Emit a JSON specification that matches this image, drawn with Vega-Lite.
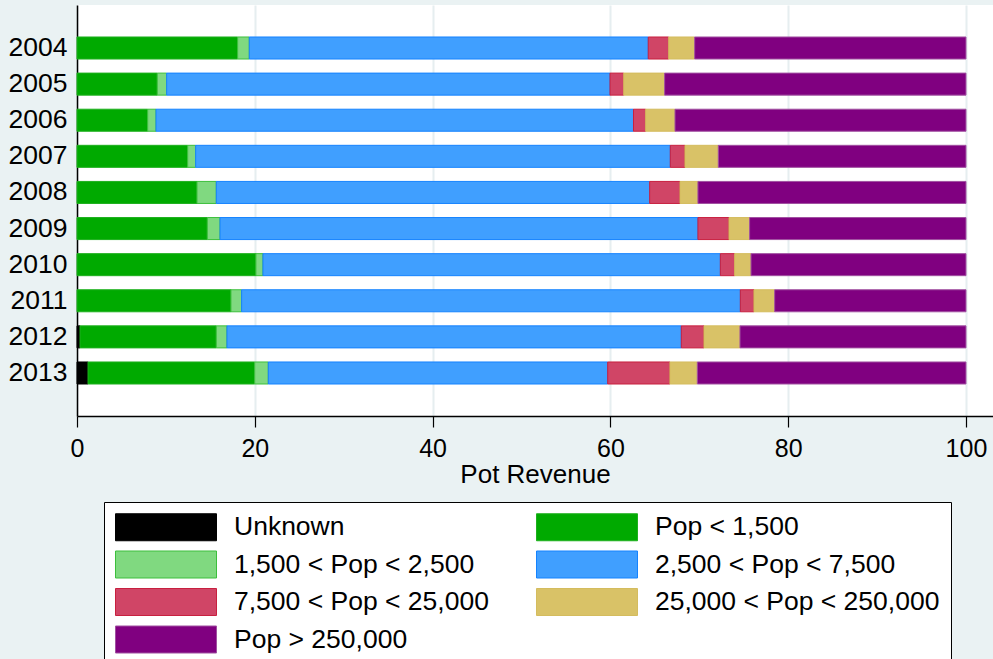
{
  "$schema": "https://vega.github.io/schema/vega-lite/v6.json",
  "width": 916,
  "height": 411,
  "autosize": {"type": "none"},
  "padding": {"left": 77, "top": 5, "right": 0, "bottom": 243},
  "background": "#EAF2F3",
  "config": {
    "view": {"fill": "white", "stroke": null},
    "font": "Liberation Sans"
  },
  "data": {
    "values": [
      {"year": "2004", "k": 1, "group": "Pop < 1,500", "value": 18.07},
      {"year": "2004", "k": 2, "group": "1,500 < Pop < 2,500", "value": 1.31},
      {"year": "2004", "k": 3, "group": "2,500 < Pop < 7,500", "value": 44.88},
      {"year": "2004", "k": 4, "group": "7,500 < Pop < 25,000", "value": 2.30},
      {"year": "2004", "k": 5, "group": "25,000 < Pop < 250,000", "value": 2.92},
      {"year": "2004", "k": 6, "group": "Pop > 250,000", "value": 30.52},
      {"year": "2005", "k": 1, "group": "Pop < 1,500", "value": 9.03},
      {"year": "2005", "k": 2, "group": "1,500 < Pop < 2,500", "value": 1.06},
      {"year": "2005", "k": 3, "group": "2,500 < Pop < 7,500", "value": 49.87},
      {"year": "2005", "k": 4, "group": "7,500 < Pop < 25,000", "value": 1.54},
      {"year": "2005", "k": 5, "group": "25,000 < Pop < 250,000", "value": 4.60},
      {"year": "2005", "k": 6, "group": "Pop > 250,000", "value": 33.90},
      {"year": "2006", "k": 1, "group": "Pop < 1,500", "value": 7.95},
      {"year": "2006", "k": 2, "group": "1,500 < Pop < 2,500", "value": 0.94},
      {"year": "2006", "k": 3, "group": "2,500 < Pop < 7,500", "value": 53.71},
      {"year": "2006", "k": 4, "group": "7,500 < Pop < 25,000", "value": 1.37},
      {"year": "2006", "k": 5, "group": "25,000 < Pop < 250,000", "value": 3.30},
      {"year": "2006", "k": 6, "group": "Pop > 250,000", "value": 32.73},
      {"year": "2007", "k": 1, "group": "Pop < 1,500", "value": 12.45},
      {"year": "2007", "k": 2, "group": "1,500 < Pop < 2,500", "value": 0.90},
      {"year": "2007", "k": 3, "group": "2,500 < Pop < 7,500", "value": 53.39},
      {"year": "2007", "k": 4, "group": "7,500 < Pop < 25,000", "value": 1.65},
      {"year": "2007", "k": 5, "group": "25,000 < Pop < 250,000", "value": 3.75},
      {"year": "2007", "k": 6, "group": "Pop > 250,000", "value": 27.86},
      {"year": "2008", "k": 1, "group": "Pop < 1,500", "value": 13.50},
      {"year": "2008", "k": 2, "group": "1,500 < Pop < 2,500", "value": 2.17},
      {"year": "2008", "k": 3, "group": "2,500 < Pop < 7,500", "value": 48.75},
      {"year": "2008", "k": 4, "group": "7,500 < Pop < 25,000", "value": 3.41},
      {"year": "2008", "k": 5, "group": "25,000 < Pop < 250,000", "value": 2.02},
      {"year": "2008", "k": 6, "group": "Pop > 250,000", "value": 30.15},
      {"year": "2009", "k": 1, "group": "Pop < 1,500", "value": 14.66},
      {"year": "2009", "k": 2, "group": "1,500 < Pop < 2,500", "value": 1.43},
      {"year": "2009", "k": 3, "group": "2,500 < Pop < 7,500", "value": 53.76},
      {"year": "2009", "k": 4, "group": "7,500 < Pop < 25,000", "value": 3.49},
      {"year": "2009", "k": 5, "group": "25,000 < Pop < 250,000", "value": 2.32},
      {"year": "2009", "k": 6, "group": "Pop > 250,000", "value": 24.34},
      {"year": "2010", "k": 1, "group": "Pop < 1,500", "value": 20.13},
      {"year": "2010", "k": 2, "group": "1,500 < Pop < 2,500", "value": 0.79},
      {"year": "2010", "k": 3, "group": "2,500 < Pop < 7,500", "value": 51.45},
      {"year": "2010", "k": 4, "group": "7,500 < Pop < 25,000", "value": 1.61},
      {"year": "2010", "k": 5, "group": "25,000 < Pop < 250,000", "value": 1.84},
      {"year": "2010", "k": 6, "group": "Pop > 250,000", "value": 24.18},
      {"year": "2011", "k": 1, "group": "Pop < 1,500", "value": 17.32},
      {"year": "2011", "k": 2, "group": "1,500 < Pop < 2,500", "value": 1.20},
      {"year": "2011", "k": 3, "group": "2,500 < Pop < 7,500", "value": 56.10},
      {"year": "2011", "k": 4, "group": "7,500 < Pop < 25,000", "value": 1.53},
      {"year": "2011", "k": 5, "group": "25,000 < Pop < 250,000", "value": 2.33},
      {"year": "2011", "k": 6, "group": "Pop > 250,000", "value": 21.52},
      {"year": "2012", "k": 0, "group": "Unknown", "value": 0.34},
      {"year": "2012", "k": 1, "group": "Pop < 1,500", "value": 15.33},
      {"year": "2012", "k": 2, "group": "1,500 < Pop < 2,500", "value": 1.20},
      {"year": "2012", "k": 3, "group": "2,500 < Pop < 7,500", "value": 51.11},
      {"year": "2012", "k": 4, "group": "7,500 < Pop < 25,000", "value": 2.55},
      {"year": "2012", "k": 5, "group": "25,000 < Pop < 250,000", "value": 4.05},
      {"year": "2012", "k": 6, "group": "Pop > 250,000", "value": 25.42},
      {"year": "2013", "k": 0, "group": "Unknown", "value": 1.24},
      {"year": "2013", "k": 1, "group": "Pop < 1,500", "value": 18.75},
      {"year": "2013", "k": 2, "group": "1,500 < Pop < 2,500", "value": 1.53},
      {"year": "2013", "k": 3, "group": "2,500 < Pop < 7,500", "value": 38.18},
      {"year": "2013", "k": 4, "group": "7,500 < Pop < 25,000", "value": 7.00},
      {"year": "2013", "k": 5, "group": "25,000 < Pop < 250,000", "value": 3.08},
      {"year": "2013", "k": 6, "group": "Pop > 250,000", "value": 30.22}
    ]
  },
  "mark": {"type": "bar", "strokeWidth": 1},
  "encoding": {
    "y": {
      "field": "year",
      "type": "nominal",
      "scale": {"paddingInner": 0.39, "paddingOuter": 0.886},
      "axis": {
        "title": null,
        "ticks": false,
        "grid": false,
        "domainColor": "#000000",
        "domainWidth": 1.5,
        "labelFontSize": 26.5,
        "labelColor": "#000000",
        "labelPadding": 10
      }
    },
    "x": {
      "field": "value",
      "type": "quantitative",
      "stack": "zero",
      "scale": {"domain": [0, 103.04], "nice": false},
      "axis": {
        "values": [0, 20, 40, 60, 80, 100],
        "title": "Pot Revenue",
        "titleFontSize": 26,
        "titleFontWeight": "normal",
        "titleColor": "#000000",
        "titlePadding": 0,
        "labelFontSize": 25,
        "labelColor": "#000000",
        "labelPadding": 9,
        "labelFlush": false,
        "labelOverlap": false,
        "tickSize": 11,
        "tickColor": "#000000",
        "tickWidth": 1.2,
        "domainColor": "#000000",
        "domainWidth": 1.5,
        "grid": true,
        "gridColor": "#E6EEF0",
        "gridWidth": 2
      }
    },
    "fill": {
      "field": "group",
      "type": "nominal",
      "scale": {
        "domain": ["Unknown", "Pop < 1,500", "1,500 < Pop < 2,500", "2,500 < Pop < 7,500", "7,500 < Pop < 25,000", "25,000 < Pop < 250,000", "Pop > 250,000"],
        "range": ["#000000", "#00AA00", "#80D980", "#409FFF", "#D04566", "#D9C267", "#800080"]
      },
      "legend": {
        "orient": "none",
        "direction": "horizontal",
        "legendX": 27,
        "legendY": 497,
        "columns": 2,
        "title": null,
        "symbolType": "M-1,-1H6.4815V1H-1Z",
        "symbolSize": 729,
        "symbolStrokeWidth": 1,
        "symbolOpacity": 1,
        "labelFontSize": 26.5,
        "labelColor": "#000000",
        "labelOffset": 91,
        "labelLimit": 400,
        "rowPadding": 5.5,
        "columnPadding": 45,
        "padding": 11,
        "strokeColor": "#000000",
        "fillColor": "#FFFFFF"
      }
    },
    "stroke": {
      "field": "group",
      "type": "nominal",
      "scale": {
        "domain": ["Unknown", "Pop < 1,500", "1,500 < Pop < 2,500", "2,500 < Pop < 7,500", "7,500 < Pop < 25,000", "25,000 < Pop < 250,000", "Pop > 250,000"],
        "range": ["#000000", "#1DB01D", "#3CBF3C", "#1583FF", "#C8203F", "#D4BC5E", "#A050A0"]
      },
      "legend": null
    },
    "order": {"field": "k", "type": "quantitative"}
  }
}
